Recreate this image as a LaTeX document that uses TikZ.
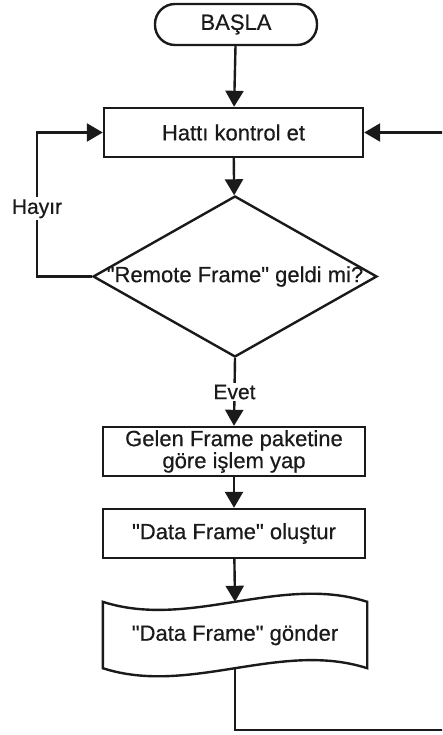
\documentclass[tikz,border=0pt]{standalone}
\usepackage{fontspec}
\setmainfont{Liberation Sans}[Ligatures=TeXOff]
\newfontfamily\chartfont{Liberation Sans}[Ligatures=TeXOff, FakeBold=0.5]
\usetikzlibrary{shapes.geometric,arrows.meta}
\definecolor{ink}{HTML}{1A1A1A}
\tikzset{
  base/.style={draw=ink, line width=2.4pt, text=ink, inner sep=0pt,
    font=\chartfont\fontsize{22}{22}\selectfont},
  procbox/.style={base, rectangle, minimum height=49pt, align=center},
  termbox/.style={base, rectangle, rounded corners=20pt, minimum width=162pt, minimum height=41pt},
  decbox/.style={base, diamond, minimum width=284pt, minimum height=161pt},
  link/.style={draw=ink, line width=2.4pt},
  flow/.style={link, -{Triangle[width=18pt,length=16pt]}},
  lbl/.style={fill=white, text=ink, inner sep=2pt, font=\chartfont\fontsize{21}{21}\selectfont}
}
\begin{document}
\begin{tikzpicture}[x=1pt, y=-1pt]
  \useasboundingbox (0,0) rectangle (442,735);
  \clip (0,0) rectangle (442,735);

  % nodes
  \node[termbox] (start) at (236,24.5) {BAŞLA};
  \node[procbox, minimum width=259pt] (hat) at (233.5,132.5) {Hattı kontrol et};
  \node[decbox] (dia) at (235,276.5) {\makebox[0pt]{"Remote Frame" geldi mi?}};
  \node[procbox, minimum width=262pt] (gel) at (234,451.5) {Gelen Frame paketine\\göre işlem yap};
  \node[procbox, minimum width=262pt] (dat) at (234,533.5) {"Data Frame" oluştur};
  \node[base, draw=none, rectangle, minimum width=262pt, minimum height=64pt] (doc) at (235,635) {"Data Frame" gönder};

  % wavy outline of the output (document) symbol
  \draw[link, line join=miter]
    (doc.north west) .. controls ([xshift=87pt, yshift=-28pt]doc.north west) and ([xshift=-87pt, yshift=28pt]doc.north east) .. (doc.north east)
    -- (doc.south east)
    .. controls ([xshift=-87pt, yshift=28pt]doc.south east) and ([xshift=87pt, yshift=-28pt]doc.south west) .. (doc.south west)
    -- cycle;

  % helper points for the loops
  \coordinate (noL) at (37,276.5);
  \coordinate (backB) at (235,730);
  \coordinate (backR) at (452,730);

  % connectors
  \draw[flow] (start) -- (hat);
  \draw[flow] (hat) -- (dia);
  \draw[flow] (dia.west) -- (noL) -- node[lbl, pos=0.47] {Hayır} (noL |- hat.west) -- (hat.west);
  \draw[flow] (dia.south) -- node[lbl, pos=0.5] {Evet} (gel.north);
  \draw[flow] (gel) -- (dat);
  \draw[flow] (dat) -- (doc.north);
  \draw[flow] (doc.south) -- (backB) -- (backR) -- (backR |- hat.east) -- (hat.east);
\end{tikzpicture}
\end{document}
